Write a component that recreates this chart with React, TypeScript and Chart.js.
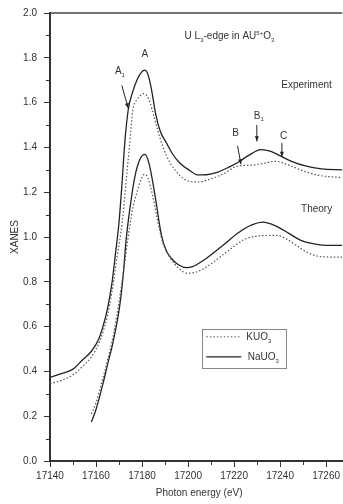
import React, { useEffect, useRef } from "react";
import { Chart, registerables } from "chart.js";
Chart.register(...registerables);

// ---- data ----
const xTicks = [17140, 17160, 17180, 17200, 17220, 17240, 17260];
const yTicks = [0, 0.2, 0.4, 0.6, 0.8, 1.0, 1.2, 1.4, 1.6, 1.8, 2.0];

const naExpE = [17140, 17145, 17150, 17154, 17158, 17161, 17163, 17165, 17167, 17168.5, 17170, 17171.3, 17172.5, 17174, 17176, 17178, 17179.7, 17181.2, 17182.6, 17184, 17186, 17188, 17190.6, 17193, 17196.4, 17200.7, 17204.3, 17208, 17213, 17218, 17222, 17226, 17231.8, 17236, 17240.5, 17245, 17251, 17258, 17267];
const naExpV = [0.373, 0.39, 0.41, 0.45, 0.49, 0.54, 0.6, 0.68, 0.8, 0.93, 1.066, 1.24, 1.42, 1.568, 1.65, 1.705, 1.735, 1.745, 1.725, 1.665, 1.545, 1.47, 1.42, 1.375, 1.33, 1.297, 1.277, 1.278, 1.29, 1.313, 1.335, 1.362, 1.39, 1.382, 1.36, 1.338, 1.317, 1.304, 1.3];

const kExpE = [17140, 17145, 17150, 17154, 17158, 17161, 17163, 17165, 17167, 17169, 17171.4, 17173, 17174.5, 17176, 17178, 17179.3, 17180.5, 17182, 17183.5, 17185, 17187, 17189, 17192, 17196.4, 17200, 17204, 17210, 17215, 17221.7, 17226, 17231, 17238, 17244, 17250, 17257, 17267];
const kExpV = [0.345, 0.36, 0.385, 0.42, 0.465, 0.52, 0.575, 0.65, 0.76, 0.9, 1.066, 1.24, 1.4, 1.565, 1.615, 1.633, 1.64, 1.632, 1.6, 1.545, 1.47, 1.405, 1.335, 1.275, 1.25, 1.245, 1.26, 1.28, 1.317, 1.32, 1.325, 1.338, 1.32, 1.295, 1.275, 1.265];

const naThE = [17158, 17160, 17163, 17165, 17167.5, 17170.4, 17172, 17173, 17174.7, 17176.9, 17179, 17181.2, 17183, 17185.5, 17188.4, 17190.5, 17192.8, 17196, 17199.3, 17202, 17208, 17215.2, 17222, 17228, 17232.5, 17238, 17244, 17249, 17254.2, 17260, 17267];
const naThV = [0.174, 0.23, 0.344, 0.43, 0.535, 0.7, 0.85, 0.978, 1.125, 1.27, 1.345, 1.369, 1.33, 1.195, 1.01, 0.94, 0.904, 0.875, 0.863, 0.868, 0.905, 0.963, 1.02, 1.055, 1.066, 1.05, 1.015, 0.985, 0.97, 0.963, 0.963];

const kThE = [17158, 17160, 17163, 17165, 17167.5, 17170, 17172, 17174, 17176, 17177.8, 17179.5, 17181, 17182.5, 17184.5, 17187, 17189, 17192, 17196, 17200, 17204, 17210, 17217, 17224.6, 17231, 17238.4, 17243, 17247, 17252, 17258, 17267];
const kThV = [0.21, 0.26, 0.37, 0.45, 0.56, 0.71, 0.85, 1.0, 1.13, 1.2, 1.255, 1.28, 1.265, 1.19, 1.06, 0.975, 0.91, 0.86, 0.838, 0.845, 0.88, 0.935, 0.99, 1.005, 1.007, 0.99, 0.963, 0.93, 0.912, 0.91];

const seriesNames = ["KUO", "NaUO"];

const X_MIN = 17140;
const X_MAX = 17267;

const pts = (e: number[], v: number[]) => e.map((xv, i) => ({ x: xv, y: v[i] }));

const FONT = "Liberation Sans, Arial, sans-serif";
const TEXT = "#333";

type Part = { t: string; k?: "sub" | "sup" };

function drawRich(ctx: CanvasRenderingContext2D, parts: Part[], x: number, y: number, size: number) {
  let cx = x;
  ctx.textAlign = "left";
  ctx.textBaseline = "alphabetic";
  for (const p of parts) {
    if (p.k) {
      ctx.font = `${Math.round(size * 0.62)}px ${FONT}`;
      const dy = p.k === "sub" ? size * 0.28 : -size * 0.45;
      ctx.fillText(p.t, cx, y + dy);
      cx += ctx.measureText(p.t).width;
    } else {
      ctx.font = `${size}px ${FONT}`;
      ctx.fillText(p.t, cx, y);
      cx += ctx.measureText(p.t).width;
    }
  }
}

function arrow(ctx: CanvasRenderingContext2D, x1: number, y1: number, x2: number, y2: number) {
  ctx.beginPath();
  ctx.moveTo(x1, y1);
  ctx.lineTo(x2, y2);
  ctx.stroke();
  const a = Math.atan2(y2 - y1, x2 - x1);
  const L = 5, W = 2;
  ctx.beginPath();
  ctx.moveTo(x2, y2);
  ctx.lineTo(x2 - L * Math.cos(a) + W * Math.sin(a), y2 - L * Math.sin(a) - W * Math.cos(a));
  ctx.lineTo(x2 - L * Math.cos(a) - W * Math.sin(a), y2 - L * Math.sin(a) + W * Math.cos(a));
  ctx.closePath();
  ctx.fill();
}

const overlay = {
  id: "overlay",
  afterDraw(chart: any) {
    const { ctx, chartArea, scales } = chart;
    const xs = scales.x, ys = scales.y;
    const px = (e: number) => xs.getPixelForValue(e);
    const py = (v: number) => ys.getPixelForValue(v);
    ctx.save();
    ctx.strokeStyle = "#444";
    ctx.fillStyle = TEXT;
    // top frame
    ctx.lineWidth = 1.5;
    ctx.beginPath();
    ctx.moveTo(chartArea.left, chartArea.top);
    ctx.lineTo(chartArea.right, chartArea.top);
    ctx.stroke();
    // minor ticks
    ctx.lineWidth = 1;
    ctx.strokeStyle = "#333";
    for (let i = 0; i < yTicks.length - 1; i++) {
      const v = (yTicks[i] + yTicks[i + 1]) / 2;
      const yy = Math.round(py(v)) + 0.5;
      ctx.beginPath();
      ctx.moveTo(chartArea.left - 4, yy);
      ctx.lineTo(chartArea.left, yy);
      ctx.stroke();
    }
    for (let i = 0; i < xTicks.length; i++) {
      const e = xTicks[i] + 10;
      if (e > X_MAX) break;
      const xx = Math.round(px(e)) + 0.5;
      ctx.beginPath();
      ctx.moveTo(xx, chartArea.bottom);
      ctx.lineTo(xx, chartArea.bottom + 4);
      ctx.stroke();
    }
    // axis titles
    ctx.fillStyle = TEXT;
    ctx.font = `10px ${FONT}`;
    ctx.textAlign = "center";
    ctx.textBaseline = "middle";
    ctx.fillText("Photon energy (eV)", (chartArea.left + chartArea.right) / 2 + 3, 493);
    ctx.save();
    ctx.translate(15, (chartArea.top + chartArea.bottom) / 2);
    ctx.rotate(-Math.PI / 2);
    ctx.fillText("XANES", 0, 0);
    ctx.restore();

    // annotations
    drawRich(ctx, [{ t: "U L" }, { t: "3", k: "sub" }, { t: "-edge in AU" }, { t: "5+", k: "sup" }, { t: "O" }, { t: "3", k: "sub" }], px(17198.5), py(1.898) + 3.5, 10);
    ctx.textAlign = "center";
    ctx.textBaseline = "middle";
    ctx.font = `10px ${FONT}`;
    ctx.fillText("A", px(17181.2), py(1.814));
    drawRich(ctx, [{ t: "A" }, { t: "1", k: "sub" }], px(17168.2), py(1.743) + 3.5, 10);
    ctx.textAlign = "left";
    ctx.textBaseline = "middle";
    ctx.font = `10px ${FONT}`;
    ctx.fillText("Experiment", px(17240.5), py(1.677));
    ctx.fillText("Theory", px(17249.1), py(1.124));
    drawRich(ctx, [{ t: "B" }, { t: "1", k: "sub" }], px(17228.6), py(1.544) + 3.5, 10);
    ctx.textAlign = "center";
    ctx.textBaseline = "middle";
    ctx.font = `10px ${FONT}`;
    ctx.fillText("B", px(17220.7), py(1.465));
    ctx.fillText("C", px(17241.5), py(1.451));

    ctx.strokeStyle = "#222";
    ctx.fillStyle = "#222";
    ctx.lineWidth = 1;
    arrow(ctx, px(17171.2), py(1.677), px(17174), py(1.575));
    arrow(ctx, px(17229.9), py(1.5), px(17229.9), py(1.427));
    arrow(ctx, px(17221.5), py(1.407), px(17223), py(1.325));
    arrow(ctx, px(17240.8), py(1.42), px(17240.8), py(1.358));

    // legend box
    const bx1 = px(17206.2), bx2 = px(17242.9);
    const by1 = py(0.59), by2 = py(0.415);
    ctx.strokeStyle = "#888";
    ctx.lineWidth = 1;
    ctx.strokeRect(Math.round(bx1) + 0.5, Math.round(by1) + 0.5, Math.round(bx2 - bx1), Math.round(by2 - by1));
    const r1 = by1 + 8, r2 = by1 + 28;
    ctx.strokeStyle = "#555";
    ctx.setLineDash([1.5, 2]);
    ctx.beginPath();
    ctx.moveTo(bx1 + 4, r1);
    ctx.lineTo(bx1 + 39, r1);
    ctx.stroke();
    ctx.setLineDash([]);
    ctx.strokeStyle = "#222";
    ctx.lineWidth = 1.2;
    ctx.beginPath();
    ctx.moveTo(bx1 + 4, r2);
    ctx.lineTo(bx1 + 39, r2);
    ctx.stroke();
    ctx.fillStyle = TEXT;
    drawRich(ctx, [{ t: seriesNames[0] }, { t: "3", k: "sub" }], bx1 + 44, r1 + 3.5, 10);
    drawRich(ctx, [{ t: seriesNames[1] }, { t: "3", k: "sub" }], bx1 + 45.5, r2 + 3.5, 10);
    ctx.restore();
  },
};

export default function App() {
  const ref = useRef<HTMLCanvasElement | null>(null);
  useEffect(() => {
    if (!ref.current) return;
    const solid = { borderColor: "#222", borderWidth: 1.3, pointRadius: 0, showLine: true, fill: false, cubicInterpolationMode: "monotone" as const };
    const dotted = { borderColor: "#555", borderWidth: 1.2, borderDash: [1.5, 2], pointRadius: 0, showLine: true, fill: false, cubicInterpolationMode: "monotone" as const };
    const chart = new Chart(ref.current, {
      type: "scatter",
      data: {
        datasets: [
          { label: "KUO3 exp", data: pts(kExpE, kExpV), ...dotted },
          { label: "NaUO3 exp", data: pts(naExpE, naExpV), ...solid },
          { label: "KUO3 theory", data: pts(kThE, kThV), ...dotted },
          { label: "NaUO3 theory", data: pts(naThE, naThV), ...solid },
        ],
      },
      options: {
        animation: false,
        responsive: false,
        devicePixelRatio: 1,
        layout: { padding: { top: 9, left: 0, right: 0, bottom: 0 } },
        plugins: { legend: { display: false }, tooltip: { enabled: false }, title: { display: false } },
        scales: {
          x: {
            type: "linear",
            min: X_MIN,
            max: X_MAX,
            afterBuildTicks: (s: any) => { s.ticks = xTicks.map((v) => ({ value: v })); },
            afterFit: (s: any) => { s.height = 43; },
            grid: { drawOnChartArea: false, drawTicks: true, tickLength: 6, color: "#333", lineWidth: 1 },
            border: { display: true, color: "#333", width: 2 },
            ticks: { color: TEXT, font: { family: FONT, size: 10 }, padding: 3, maxRotation: 0, autoSkip: false, callback: (v: any) => String(v) },
          },
          y: {
            type: "linear",
            min: 0,
            max: 2,
            afterBuildTicks: (s: any) => { s.ticks = yTicks.map((v) => ({ value: v })); },
            afterFit: (s: any) => { s.width = 50; },
            grid: { drawOnChartArea: false, drawTicks: true, tickLength: 6, color: "#333", lineWidth: 1 },
            border: { display: true, color: "#333", width: 2 },
            ticks: { color: TEXT, font: { family: FONT, size: 10 }, padding: 7, callback: (v: any) => Number(v).toFixed(1) },
          },
        },
      },
      plugins: [overlay],
    });
    return () => chart.destroy();
  }, []);
  return (
    <div style={{ position: "absolute", left: 0, top: 0, width: 343, height: 504, background: "#fff" }}>
      <canvas ref={ref} width={343} height={504} style={{ width: 343, height: 504 }} />
    </div>
  );
}
